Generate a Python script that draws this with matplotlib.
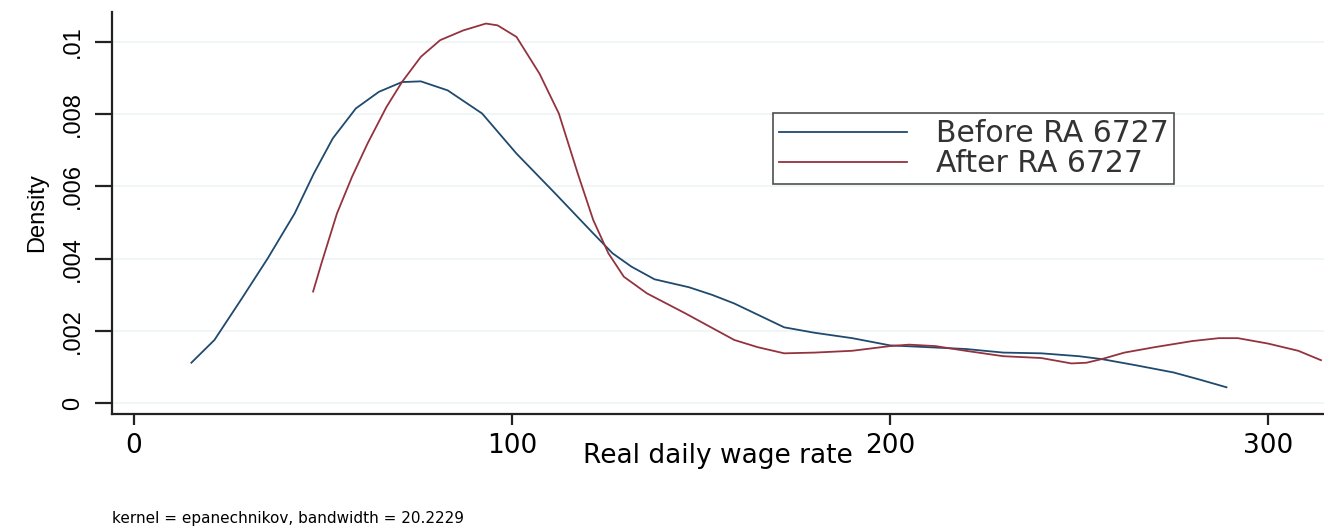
import matplotlib
matplotlib.use("Agg")
import matplotlib.pyplot as plt
from matplotlib.ticker import FixedLocator

# kernel density estimates of the real daily wage, before / after RA 6727
before_x = [15.2, 21.3, 28.3, 35.4, 42.5, 47.6, 52.6, 58.7, 64.8, 70.9, 75.9,
            83.0, 92.1, 101.2, 111.4, 121.5, 126.6, 131.6, 137.7, 146.8, 152.9,
            158.8, 165, 172, 180, 190, 200, 210, 220, 230, 240, 250, 256, 265,
            275, 282, 289]
before_y = [1.12, 1.75, 2.86, 4.01, 5.25, 6.36, 7.33, 8.16, 8.62, 8.89, 8.91,
            8.66, 8.02, 6.91, 5.81, 4.70, 4.15, 3.78, 3.43, 3.21, 3.00,
            2.76, 2.45, 2.10, 1.95, 1.80, 1.60, 1.55, 1.50, 1.40, 1.38, 1.30,
            1.22, 1.05, 0.85, 0.65, 0.44]

after_x = [47.4, 49.6, 53.7, 57.7, 61.8, 66.8, 70.9, 75.9, 81.0, 87.1, 93.1,
           96.2, 101.2, 107.3, 112.4, 117.4, 121.5, 125.5, 129.6, 135.7, 145.8,
           158.8, 165, 172, 180, 190, 200, 205, 212, 220, 230, 240, 248, 252,
           256, 262, 270, 280, 287, 292, 300, 308, 314]
after_y = [3.09, 3.87, 5.25, 6.27, 7.19, 8.20, 8.89, 9.59, 10.05, 10.32, 10.51,
           10.46, 10.14, 9.12, 8.02, 6.36, 5.07, 4.15, 3.50, 3.04, 2.49,
           1.75, 1.55, 1.38, 1.40, 1.45, 1.58, 1.62, 1.58, 1.45, 1.30, 1.25,
           1.10, 1.12, 1.22, 1.40, 1.55, 1.72, 1.80, 1.80, 1.65, 1.45, 1.19]

y_ticks = [0, 0.002, 0.004, 0.006, 0.008, 0.01]
y_labels = ["0", ".002", ".004", ".006", ".008", ".01"]
x_ticks = [0, 100, 200, 300]
x_labels = ["0", "100", "200", "300"]

W, H = 1324, 531
fig = plt.figure(figsize=(W / 100, H / 100), dpi=100)
fig.patch.set_facecolor("white")

# axes box in pixel units -> figure fractions
left, right, top, bottom = 112, 1324, 12, 414
ax = fig.add_axes([left / W, 1 - bottom / H, (right - left) / W, (bottom - top) / H])

ax.plot(before_x, [v / 1000 for v in before_y], color="#1f4a6e", lw=1.3,
        label="Before RA 6727")
ax.plot(after_x, [v / 1000 for v in after_y], color="#93333f", lw=1.3,
        label="After RA 6727")

ax.set_xlim(-5.8, 314.8)
ax.set_ylim(-0.0003, 0.01083)

ax.yaxis.set_major_locator(FixedLocator(y_ticks))
ax.set_yticklabels(y_labels, rotation=90, va="center",
                   family="Liberation Sans", fontsize=17)
ax.xaxis.set_major_locator(FixedLocator(x_ticks))
ax.set_xticklabels(x_labels, family="DejaVu Sans", fontsize=19)

ax.grid(axis="y", color="#eef3f3", lw=1.2)
ax.set_axisbelow(True)

for s in ["top", "right"]:
    ax.spines[s].set_visible(False)
for s in ["left", "bottom"]:
    ax.spines[s].set_linewidth(1.6)
    ax.spines[s].set_color("#222222")
ax.tick_params(axis="y", length=12, width=1.6, pad=8, color="#222222")
ax.tick_params(axis="x", length=8, width=1.6, pad=6, color="#222222")

ax.set_ylabel("Density", family="Liberation Sans", fontsize=17, labelpad=10)
ax.set_xlabel("Real daily wage rate", family="DejaVu Sans", fontsize=19,
              labelpad=-12)

leg = ax.legend(loc="upper left", bbox_to_anchor=((773 - left) / (right - left),
                                                  1 - (113 - top) / (bottom - top)),
                prop={"family": "DejaVu Sans", "size": 21.5},
                frameon=True, fancybox=False, edgecolor="#222222",
                handlelength=4.3, handletextpad=0.95, borderpad=0.2,
                labelspacing=0.04, borderaxespad=0)
leg.get_frame().set_linewidth(1.2)
for t in leg.get_texts():
    t.set_color("#333333")

fig.text(112 / W, 1 - 518 / H, "kernel = epanechnikov, bandwidth = 20.2229",
         family="DejaVu Sans", fontsize=11, va="center", ha="left")

fig.savefig("out.png", dpi=100, facecolor="white")
